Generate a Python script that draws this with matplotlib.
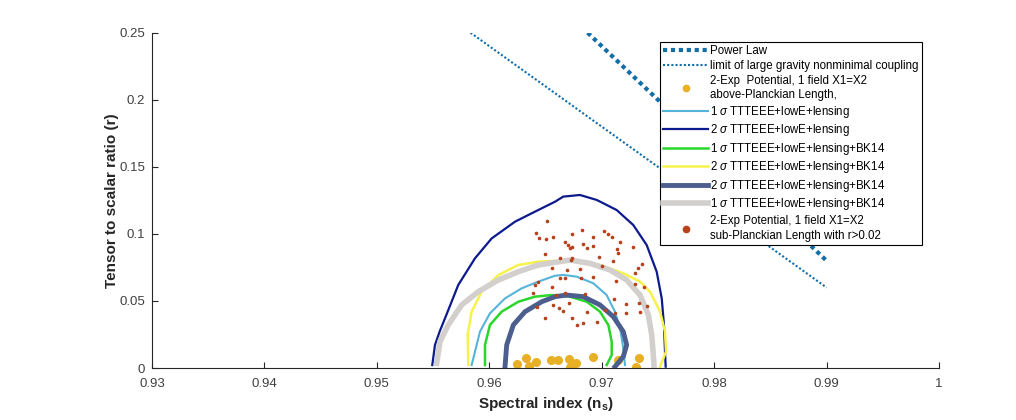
import matplotlib
matplotlib.use('Agg')
from matplotlib import pyplot as plt

plt.rcParams['font.family'] = ['Liberation Sans', 'DejaVu Sans']
plt.rcParams['mathtext.fontset'] = 'custom'
plt.rcParams['mathtext.rm'] = 'Liberation Sans'
plt.rcParams['mathtext.it'] = 'Liberation Sans:italic'
plt.rcParams['mathtext.bf'] = 'Liberation Sans:bold'

# straight lines (ns, r)
pl_ns = [0.96875, 0.99]
pl_r = [0.25, 0.08]
lim_ns = [0.95833, 0.99]
lim_r = [0.25, 0.06]

# 2-exp, above-Planckian length
above_ns = [0.96251, 0.96327, 0.96356, 0.96415, 0.96549, 0.96611, 0.96712,
            0.96714, 0.96771, 0.96920, 0.97145, 0.97332, 0.97305]
above_r = [0.0030, 0.0072, 0.0015, 0.0047, 0.0056, 0.0063, 0.0069,
           0.0007, 0.0035, 0.0084, 0.0060, 0.0072, 0.0010]

# Planck TTTEEE+lowE+lensing contours
p1_ns = [0.95843, 0.95873, 0.95917, 0.96006, 0.96140, 0.96288, 0.96436, 0.96585,
         0.96658, 0.96778, 0.96925, 0.97044, 0.97118, 0.97163, 0.97192, 0.97207]
p1_r = [0.0022, 0.0122, 0.0271, 0.0408, 0.0519, 0.0594, 0.0644, 0.0688,
        0.0694, 0.0681, 0.0632, 0.0544, 0.0420, 0.0296, 0.0147, 0.0022]
p2_ns = [0.95493, 0.95517, 0.95560, 0.95606, 0.95724, 0.95873, 0.96021, 0.96229,
         0.96407, 0.96585, 0.96658, 0.96807, 0.96956, 0.97133, 0.97281, 0.97400,
         0.97489, 0.97534, 0.97554, 0.97563, 0.97569]
p2_r = [0.0022, 0.0172, 0.0275, 0.0370, 0.0619, 0.0818, 0.0966, 0.1091,
        0.1166, 0.1240, 0.1278, 0.1290, 0.1253, 0.1178, 0.1066, 0.0917,
        0.0718, 0.0519, 0.0318, 0.0122, 0.0010]

# +BK14 contours
g1_ns = [0.95962, 0.95962, 0.96006, 0.96110, 0.96258, 0.96407, 0.96555, 0.96718,
         0.96867, 0.96985, 0.97059, 0.97089, 0.97089, 0.97044]
g1_r = [0.0022, 0.0172, 0.0321, 0.0420, 0.0494, 0.0532, 0.0544, 0.0532,
        0.0494, 0.0420, 0.0321, 0.0196, 0.0097, 0.0022]
y2_ns = [0.95813, 0.95808, 0.95843, 0.95932, 0.96080, 0.96258, 0.96436, 0.96585,
         0.96778, 0.96985, 0.97192, 0.97341, 0.97430, 0.97519, 0.97563, 0.97572,
         0.97519]
y2_r = [0.0022, 0.0246, 0.0420, 0.0569, 0.0693, 0.0768, 0.0793, 0.0798,
        0.0798, 0.0768, 0.0706, 0.0644, 0.0569, 0.0420, 0.0271, 0.0122,
        0.0010]
s2_ns = [0.96140, 0.96155, 0.96214, 0.96318, 0.96466, 0.96585, 0.96689, 0.96836,
         0.96985, 0.97103, 0.97192, 0.97222, 0.97192, 0.97118]
s2_r = [0.0010, 0.0172, 0.0321, 0.0420, 0.0494, 0.0532, 0.0544, 0.0532,
        0.0470, 0.0383, 0.0271, 0.0172, 0.0085, 0.0010]
gr1_ns = [0.95532, 0.95561, 0.95635, 0.95754, 0.95902, 0.96080, 0.96258, 0.96436,
          0.96585, 0.96718, 0.96896, 0.97074, 0.97222, 0.97341, 0.97415, 0.97445,
          0.97459, 0.97465]
gr1_r = [0.0035, 0.0196, 0.0321, 0.0470, 0.0569, 0.0656, 0.0718, 0.0768,
         0.0788, 0.0805, 0.0780, 0.0731, 0.0656, 0.0544, 0.0395, 0.0246,
         0.0097, 0.0022]

# 2-exp, sub-Planckian length with r>0.02
sub_ns = [0.96516, 0.96415, 0.96445, 0.96504, 0.96569, 0.96738, 0.96827, 0.96925,
          0.96673, 0.96703, 0.96718, 0.96738, 0.96836, 0.96867, 0.96920, 0.96496,
          0.96629, 0.96733, 0.96724, 0.96555, 0.96689, 0.96807, 0.96629, 0.96673,
          0.96813, 0.96925, 0.96436, 0.96407, 0.96555, 0.96391, 0.96593, 0.96673,
          0.96851, 0.96422, 0.96569, 0.96712, 0.96623, 0.96658, 0.96867, 0.96496,
          0.96733, 0.97020, 0.97059, 0.97089, 0.97163, 0.97281, 0.97133, 0.97148,
          0.96979, 0.97103, 0.97000, 0.97356, 0.97326, 0.97296, 0.97127, 0.97296,
          0.97376, 0.97109, 0.97216, 0.97335, 0.97400, 0.97029, 0.97118, 0.97216,
          0.97341, 0.96778, 0.96836, 0.96956]
sub_r = [0.1096, 0.1004, 0.0967, 0.0962, 0.0979, 0.0997, 0.1029, 0.0979,
         0.0937, 0.0917, 0.0897, 0.0905, 0.0922, 0.0897, 0.0912, 0.0848,
         0.0823, 0.0818, 0.0805, 0.0743, 0.0731, 0.0736, 0.0673, 0.0673,
         0.0669, 0.0681, 0.0644, 0.0619, 0.0606, 0.0557, 0.0544, 0.0557,
         0.0550, 0.0457, 0.0470, 0.0482, 0.0445, 0.0425, 0.0420, 0.0371,
         0.0375, 0.1022, 0.0997, 0.0979, 0.0937, 0.0905, 0.0887, 0.0855,
         0.0826, 0.0798, 0.0761, 0.0774, 0.0748, 0.0711, 0.0649, 0.0624,
         0.0606, 0.0512, 0.0475, 0.0482, 0.0463, 0.0433, 0.0408, 0.0408,
         0.0415, 0.0321, 0.0333, 0.0345]

xticks = [0.93, 0.94, 0.95, 0.96, 0.97, 0.98, 0.99, 1.0]
xtick_labels = ['0.93', '0.94', '0.95', '0.96', '0.97', '0.98', '0.99', '1']
yticks = [0, 0.05, 0.1, 0.15, 0.2, 0.25]
ytick_labels = ['0', '0.05', '0.1', '0.15', '0.2', '0.25']

line_col = '#126ea6'
sig = r'$\sigma$'

fig = plt.figure(figsize=(10.16, 4.2), dpi=100)
ax = fig.add_axes([0.1496, 0.1238, 0.7746, 0.7983])

ax.plot(pl_ns, pl_r, color=line_col, lw=3, linestyle=(0, (1, 0.9)), label='Power Law')
ax.plot(lim_ns, lim_r, color=line_col, lw=1.5, linestyle=(0, (1, 1)),
        label='limit of large gravity nonminimal coupling')
ax.plot(above_ns, above_r, 'o', color='#e8b024', ms=5.5, mec='#e8b024',
        label='2-Exp  Potential, 1 field X1=X2\nabove-Planckian Length,')
ax.plot(p1_ns, p1_r, color='#55b4d9', lw=1.5, label='1 ' + sig + ' TTTEEE+lowE+lensing')
ax.plot(p2_ns, p2_r, color='#0d1a8e', lw=1.6, label='2 ' + sig + ' TTTEEE+lowE+lensing')
ax.plot(g1_ns, g1_r, color='#2ad62a', lw=1.8, label='1 ' + sig + ' TTTEEE+lowE+lensing+BK14')
ax.plot(y2_ns, y2_r, color='#f6f24a', lw=1.8, label='2 ' + sig + ' TTTEEE+lowE+lensing+BK14')
ax.plot(s2_ns, s2_r, color='#4b5e8e', lw=3.5, label='2 ' + sig + ' TTTEEE+lowE+lensing+BK14')
ax.plot(gr1_ns, gr1_r, color='#d2cfcc', lw=4, label='1 ' + sig + ' TTTEEE+lowE+lensing+BK14')
ax.plot(sub_ns, sub_r, 'o', color='#b8421e', ms=1.6, mec='#b8421e',
        label='2-Exp Potential, 1 field X1=X2\nsub-Planckian Length with r>0.02')

ax.set_xlim(0.93, 1.0)
ax.set_ylim(0, 0.25)
ax.set_xticks(xticks)
ax.set_xticklabels(xtick_labels)
ax.set_yticks(yticks)
ax.set_yticklabels(ytick_labels)
for s in ['top', 'right']:
    ax.spines[s].set_visible(False)
for s in ['left', 'bottom']:
    ax.spines[s].set_color('#262626')
    ax.spines[s].set_linewidth(0.8)
ax.tick_params(direction='in', length=4, width=0.8, colors='#262626',
               labelcolor='#404040', labelsize=9.5)
ax.tick_params(axis='x', pad=7)
ax.tick_params(axis='y', pad=5)

ax.set_xlabel(r'Spectral index (n$_\mathbf{s}$)', fontsize=11, fontweight='bold',
              color='#262626', labelpad=4)
ax.set_ylabel('Tensor to scalar ratio (r)', fontsize=11, fontweight='bold',
              color='#262626', labelpad=0)

leg = ax.legend(loc='upper left', bbox_to_anchor=(660 / 1016, 1 - 42 / 420),
                bbox_transform=fig.transFigure, borderaxespad=0, fontsize=8.3,
                handlelength=3.9, handletextpad=0.15, labelspacing=0.22,
                borderpad=0.3, fancybox=False, framealpha=1, edgecolor='black')
leg.get_frame().set_linewidth(0.8)
for t in leg.get_texts():
    t.set_linespacing(1.3)
leg.legend_handles[2].set_markersize(4.5)
leg.legend_handles[9].set_markersize(4.5)

fig.savefig('out.png', dpi=100)
